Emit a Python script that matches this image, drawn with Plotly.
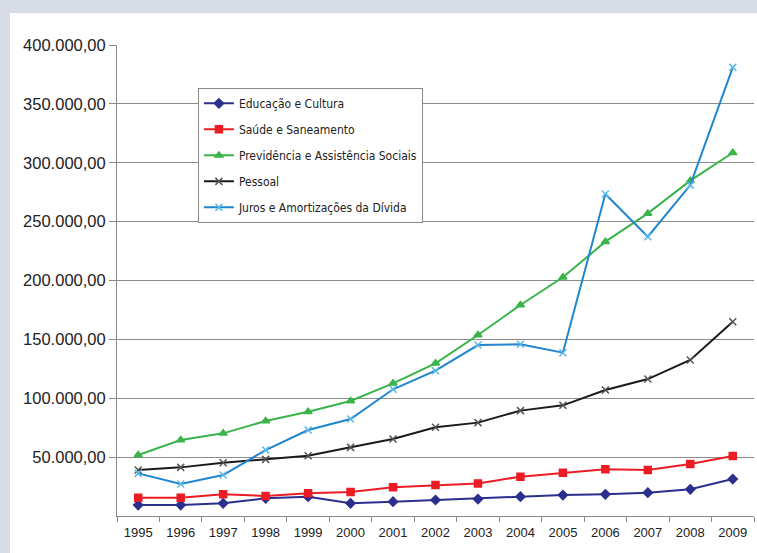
import plotly.graph_objects as go

years = ["1995", "1996", "1997", "1998", "1999", "2000", "2001", "2002",
         "2003", "2004", "2005", "2006", "2007", "2008", "2009"]

educacao = [9300, 9300, 10800, 15000, 16400, 10800, 12200, 13600,
            14400, 16400, 17800, 18400, 19800, 22700, 31400]
saude = [15600, 15600, 18400, 17000, 19300, 20400, 24400, 26300,
         27700, 33400, 36800, 39600, 39000, 44200, 51000]
previdencia = [51800, 64500, 70200, 80700, 88600, 97700, 112700, 129700,
               153700, 179200, 202700, 233000, 257000, 284800, 308500]
pessoal = [39000, 41300, 45300, 48100, 51200, 58300, 65400, 75300,
           79300, 89500, 94000, 107000, 116300, 132500, 165000]
juros = [36200, 27200, 34800, 56000, 73000, 82400, 107600, 123400,
         145200, 145800, 138700, 273500, 237200, 281000, 381000]

y_ticks = [50000, 100000, 150000, 200000, 250000, 300000, 350000, 400000]
y_tick_labels = ["50.000,00", "100.000,00", "150.000,00", "200.000,00",
                 "250.000,00", "300.000,00", "350.000,00", "400.000,00"]

series = [
    ("Educação e Cultura", educacao, "#2b2f8e", "#2b2f8e", "diamond", 7),
    ("Saúde e Saneamento", saude, "#ec1c24", "#ec1c24", "square", 7),
    ("Previdência e Assistência Sociais", previdencia, "#3ab44a", "#3ab44a", "triangle-up", 7),
    ("Pessoal", pessoal, "#1a1a1a", "#555555", "x-thin", 7),
    ("Juros e Amortizações da Dívida", juros, "#1f86cf", "#5ab8ea", "x-thin", 7),
]

TICK_FONT = "Liberation Sans, Arial, sans-serif"
LEGEND_FONT = "DejaVu Sans Condensed, Liberation Sans, sans-serif"

fig = go.Figure()
for i, (name, vals, lc, mc, sym, ms) in enumerate(series):
    fig.add_trace(go.Scatter(
        x=years, y=vals, name=name, mode="lines+markers",
        legendgroup=f"g{i}",
        line=dict(color=lc, width=2),
        marker=dict(symbol=sym, size=ms, color=mc,
                    line=dict(color=mc, width=1.5)),
    ))

# white panel behind the chart
fig.add_shape(type="rect", xref="paper", yref="paper",
              x0=-0.168, x1=1.01, y0=-0.08, y1=1.068,
              fillcolor="white", line=dict(width=0), layer="below")

fig.update_layout(
    width=757, height=553,
    margin=dict(l=117, r=3, t=45, b=37),
    paper_bgcolor="#d7dce7",
    plot_bgcolor="white",
    font=dict(family=TICK_FONT, color="#222222"),
    showlegend=True,
    legend=dict(
        x=0.127, y=0.909, xanchor="left", yanchor="top",
        bgcolor="white", bordercolor="#888888", borderwidth=1,
        font=dict(family=LEGEND_FONT, size=12, color="#222222"),
        tracegroupgap=7, itemwidth=30,
    ),
)

fig.update_xaxes(
    type="category", range=[-0.5, 14.5],
    showgrid=False, showline=True, linecolor="#888888", linewidth=1,
    ticks="outside", tickson="boundaries", ticklen=5, tickcolor="#888888",
    ticklabelstandoff=4,
    tickfont=dict(family=TICK_FONT, size=13, color="#222222"),
)
fig.update_yaxes(
    range=[0, 400000], tickvals=y_ticks, ticktext=y_tick_labels,
    showgrid=True, gridcolor="#8c8c8c", gridwidth=1,
    showline=True, linecolor="#888888", linewidth=1,
    ticks="outside", ticklen=7, tickcolor="#888888",
    tickfont=dict(family=TICK_FONT, size=16.5, color="#222222"),
    zeroline=False,
)

fig.write_html("out.html",
               config={"displayModeBar": False},
               post_script="document.body.style.margin='0';document.body.style.overflow='hidden';")
